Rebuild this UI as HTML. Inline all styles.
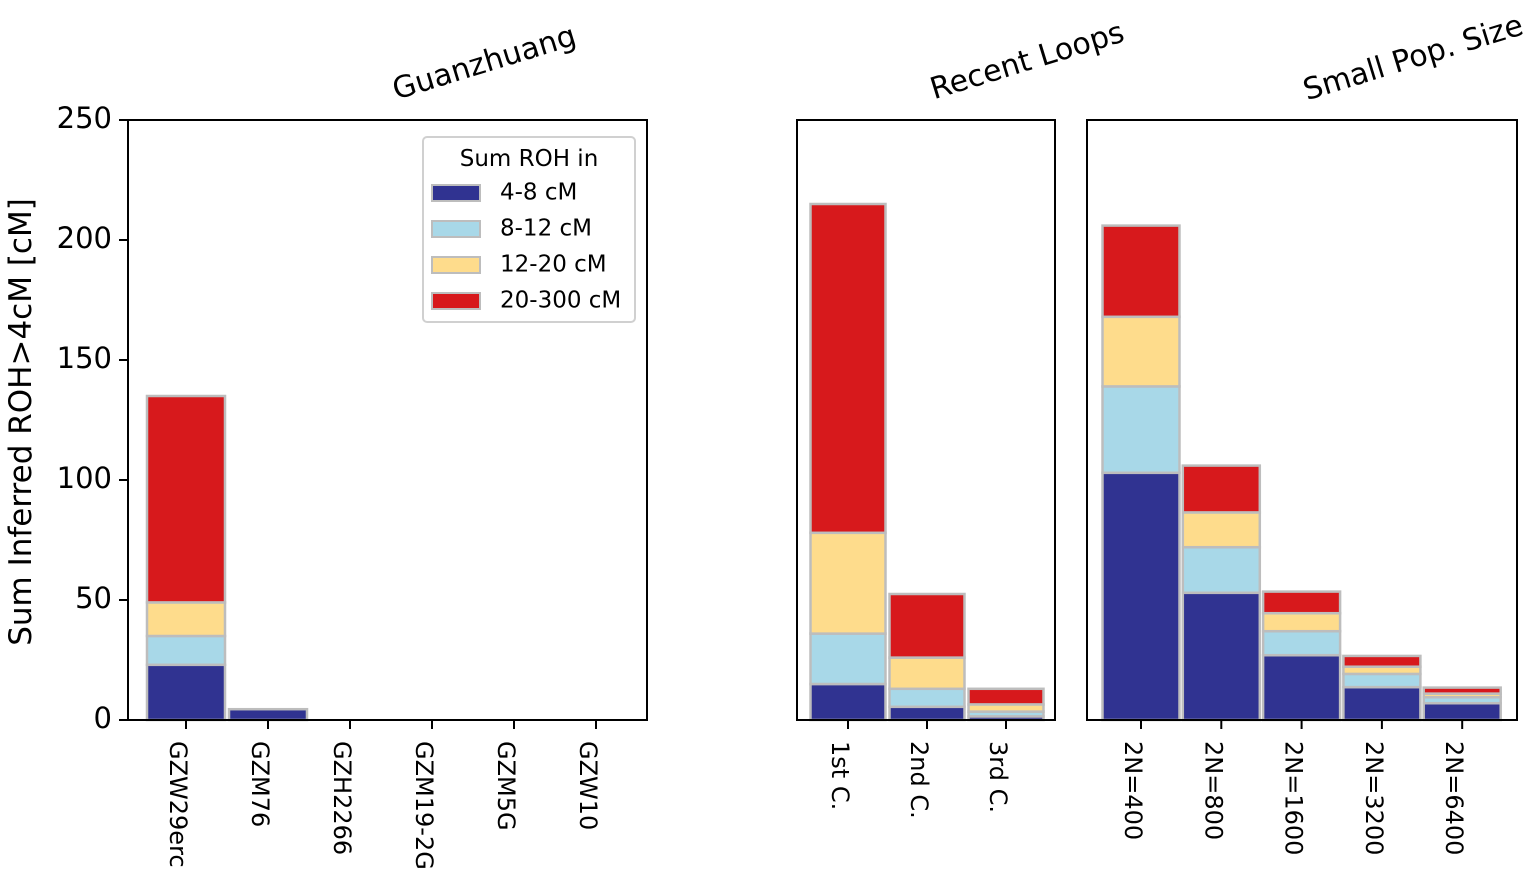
<!DOCTYPE html>
<html><head><meta charset="utf-8"><style>
html,body{margin:0;padding:0;background:#fff;}
svg{display:block;font-family:"DejaVu Sans","Liberation Sans",sans-serif;}
</style></head><body>
<svg id="chart" width="1535" height="880" viewBox="0 0 1535 880"></svg>
<script>
const colors = ['#303391','#a8d8e8','#fedc8c','#d7191c'];
const legendLabels = ['4-8 cM','8-12 cM','12-20 cM','20-300 cM'];
const yTicks = [0,50,100,150,200,250];

const gzCats = ['GZW29erc','GZM76','GZH2266','GZM19-2G','GZM5G','GZW10'];
const gz48 = [23,4.5,0,0,0,0];
const gz812 = [12,0,0,0,0,0];
const gz1220 = [14,0,0,0,0,0];
const gz20300 = [86,0,0,0,0,0];

const rlCats = ['1st C.','2nd C.','3rd C.'];
const rl48 = [15,5.5,1.5];
const rl812 = [21,7.5,2];
const rl1220 = [42,13,3];
const rl20300 = [137,26.5,6.5];

const spCats = ['2N=400','2N=800','2N=1600','2N=3200','2N=6400'];
const sp48 = [103,53,27,13.7,7];
const sp812 = [36,19,10,5.5,2.5];
const sp1220 = [29,14.5,7.5,3,1.5];
const sp20300 = [38,19.5,9,4.5,2.5];

const svg = document.getElementById('chart');
const NS = 'http://www.w3.org/2000/svg';
function mk(tag, attrs, parent){
  const e = document.createElementNS(NS, tag);
  for (const k in attrs) e.setAttribute(k, attrs[k]);
  (parent||svg).appendChild(e);
  return e;
}
const Y0 = 720, Y1 = 120, YMAX = 250;
function yScale(v){ return Y0 - v/YMAX*(Y0-Y1); }

function panel(name, x0, x1, firstCenter, step, barW, cats, series, title, tx, ty){
  const g = mk('g', {});
  
  
  cats.forEach((c, i) => {
    const cx = firstCenter + i*step;
    let acc = 0;
    series.forEach((s, k) => {
      const v = s[i];
      const yTop = yScale(acc + v), yBot = yScale(acc);
      acc += v;
      const r = mk('rect', {x: cx - barW/2, y: yTop, width: barW, height: Math.max(yBot - yTop, 0), fill: colors[k], stroke: '#bdbdbd', 'stroke-width': 2.5}, g);
      
      
    });
    mk('line', {x1: cx, x2: cx, y1: Y0, y2: Y0 + 9, stroke: '#000', 'stroke-width': 2}, g);
    const t = mk('text', {x: 0, y: 0, 'font-size': 24, transform: `translate(${cx - 9},${Y0 + 21}) rotate(90)`, 'dominant-baseline': 'middle'}, g);
    t.textContent = c;
    
    
  });
  const b = mk('rect', {x: x0, y: Y1, width: x1 - x0, height: Y0 - Y1, fill: 'none', stroke: '#000', 'stroke-width': 2}, g);
  
  
  const tt = mk('text', {x: 0, y: 0, 'font-size': 30, 'text-anchor': 'middle', transform: `translate(${tx},${ty}) rotate(-17)`}, g);
  tt.textContent = title;
  
  
}

panel('guanzhuang', 128, 647, 186, 82, 78, gzCats, [gz48, gz812, gz1220, gz20300], 'Guanzhuang', 487, 72);
panel('recent-loops', 797, 1055, 848, 79, 75, rlCats, [rl48, rl812, rl1220, rl20300], 'Recent Loops', 1030, 70);
panel('small-pop', 1087, 1517, 1141, 80.3, 77, spCats, [sp48, sp812, sp1220, sp20300], 'Small Pop. Size', 1416, 67);

yTicks.forEach(v => {
  const y = yScale(v);
  mk('line', {x1: 119, x2: 128, y1: y, y2: y, stroke: '#000', 'stroke-width': 2});
  const t = mk('text', {x: 112, y: y, 'font-size': 29, 'text-anchor': 'end', 'dominant-baseline': 'middle'});
  t.textContent = v;
  
  
});
const yl = mk('text', {x: 0, y: 0, 'font-size': 31, 'text-anchor': 'middle', transform: 'translate(31,422) rotate(-90)'});
yl.textContent = 'Sum Inferred ROH>4cM [cM]';



const lg = mk('g', {});


mk('rect', {x: 423, y: 137, width: 212, height: 185, rx: 4, fill: '#fff', stroke: '#d0d0d0', 'stroke-width': 2}, lg);
const lt = mk('text', {x: 529, y: 166, 'font-size': 23, 'text-anchor': 'middle'}, lg);
lt.textContent = 'Sum ROH in';
legendLabels.forEach((l, k) => {
  const y = 193 + k*36;
  const s = mk('rect', {x: 432, y: y - 8, width: 48, height: 16, fill: colors[k], stroke: '#bdbdbd', 'stroke-width': 2}, lg);
  
  
  const t = mk('text', {x: 500, y: y, 'font-size': 23, 'dominant-baseline': 'middle'}, lg);
  t.textContent = l;
  
  
});
</script>
</body></html>
